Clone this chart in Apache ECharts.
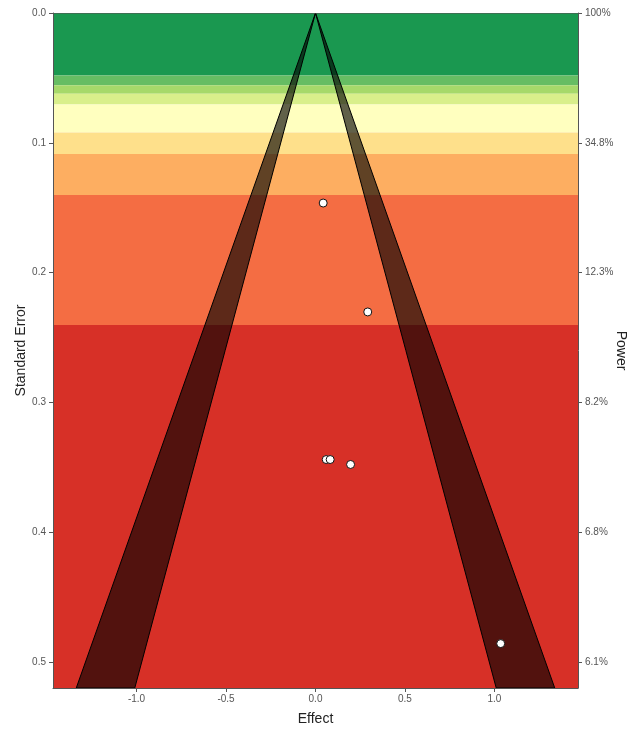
<!DOCTYPE html>
<html>
<head>
<meta charset="utf-8">
<script src="https://cdn.jsdelivr.net/npm/echarts@6/dist/echarts.min.js"></script>
<style>
html,body{margin:0;padding:0;background:#fff;}
#chart{width:638px;height:731px;}
</style>
</head>
<body>
<div id="chart"></div>
<script>
// Study data (effect, standard error)
const effects = [0.043, 0.292, 0.060, 0.082, 0.196, 1.035];
const standardErrors = [0.1464, 0.2303, 0.344, 0.344, 0.3478, 0.4858];

// Power bands (SE boundaries) and their colours
const bandEdges = [0, 0.0482, 0.0556, 0.0623, 0.0705, 0.0921, 0.1087, 0.1403, 0.2403, 0.52];
const bandColors = ['#1a9850', '#66bd63', '#a6d96a', '#d9ef8b', '#ffffbf', '#fee08b', '#fdae61', '#f46d43', '#d73027'];

// Significance contour regions (vertices: [effect, SE])
const funnelLeft = [[0, 0], [-1.337, 0.52], [-1.010, 0.52]];
const funnelRight = [[0, 0], [1.010, 0.52], [1.337, 0.52]];

// Axis ticks
const effectTicks = [-1.0, -0.5, 0.0, 0.5, 1.0];
const seTicks = [0.0, 0.1, 0.2, 0.3, 0.4, 0.5];
const powerLabels = ['100%', '34.8%', '12.3%', '8.2%', '6.8%', '6.1%'];

const xMin = -1.467, xMax = 1.467;
const yMin = 0, yMax = 0.52;

const FONT = 'Liberation Sans, Arial, sans-serif';
const chart = echarts.init(document.getElementById('chart'), null, {renderer: 'canvas'});

const bandData = [];
for (let i = 0; i < bandColors.length; i++) bandData.push([bandEdges[i], bandEdges[i + 1], i]);
const polygons = [funnelLeft, funnelRight];
const points = effects.map((e, i) => [e, standardErrors[i]]);

const axisTextStyle = {color: '#555', fontSize: 10, fontFamily: FONT};
const axisLineStyle = {show: true, onZero: false, lineStyle: {color: '#555', width: 1}};

const option = {
  animation: false,
  backgroundColor: '#fff',
  grid: {left: 53, right: 60, top: 13, bottom: 43, containLabel: false, outerBoundsMode: 'none'},
  xAxis: [{
    type: 'value', min: xMin, max: xMax, position: 'bottom', z: 10,
    splitLine: {show: false},
    axisLine: axisLineStyle,
    axisTick: {show: true, length: 4, lineStyle: {color: '#555'}, customValues: effectTicks},
    axisLabel: Object.assign({margin: 6, customValues: effectTicks, formatter: v => v.toFixed(1)}, axisTextStyle),
    name: 'Effect', nameLocation: 'middle', nameGap: 24, nameMoveOverlap: false,
    nameTextStyle: {color: '#222', fontSize: 14, fontFamily: FONT}
  }, {
    type: 'value', min: xMin, max: xMax, position: 'top', z: 10,
    splitLine: {show: false},
    axisLine: {show: true, onZero: false, lineStyle: {color: '#555', width: 0.6}},
    axisTick: {show: false}, axisLabel: {show: false}
  }],
  yAxis: [{
    type: 'value', inverse: true, min: yMin, max: yMax, position: 'left', z: 10,
    splitLine: {show: false},
    axisLine: axisLineStyle,
    axisTick: {show: true, length: 4, lineStyle: {color: '#555'}, customValues: seTicks},
    axisLabel: Object.assign({margin: 7, customValues: seTicks, formatter: v => v.toFixed(1)}, axisTextStyle),
    name: 'Standard Error', nameLocation: 'middle', nameGap: 25, nameRotate: 90, nameMoveOverlap: false,
    nameTextStyle: {color: '#222', fontSize: 14, fontFamily: FONT}
  }, {
    type: 'value', inverse: true, min: yMin, max: yMax, position: 'right', z: 10,
    splitLine: {show: false},
    axisLine: axisLineStyle,
    axisTick: {show: true, length: 4, lineStyle: {color: '#555'}, customValues: seTicks},
    axisLabel: Object.assign({margin: 7, customValues: seTicks, formatter: v => {
      let best = 0;
      seTicks.forEach((t, i) => { if (Math.abs(t - v) < Math.abs(seTicks[best] - v)) best = i; });
      return powerLabels[best];
    }}, axisTextStyle),
    name: 'Power', nameLocation: 'middle', nameGap: 36, nameRotate: -90, nameMoveOverlap: false,
    nameTextStyle: {color: '#222', fontSize: 14, fontFamily: FONT}
  }],
  series: [{
    type: 'custom',
    coordinateSystem: 'cartesian2d',
    xAxisIndex: 0, yAxisIndex: 0,
    z: 1,
    silent: true,
    data: bandData,
    encode: {y: [0, 1]},
    renderItem: function (params, api) {
      const y0 = api.value(0), y1 = api.value(1), ci = api.value(2);
      const p0 = api.coord([xMin, y0]);
      const p1 = api.coord([xMax, y1]);
      return {
        type: 'rect',
        shape: {x: p0[0], y: p0[1], width: p1[0] - p0[0], height: p1[1] - p0[1]},
        style: {fill: bandColors[ci], stroke: null}
      };
    }
  }, {
    type: 'custom',
    coordinateSystem: 'cartesian2d',
    xAxisIndex: 0, yAxisIndex: 0,
    z: 3,
    silent: true,
    data: [[0], [1]],
    encode: {x: 0},
    renderItem: function (params, api) {
      const poly = polygons[api.value(0)];
      return {
        type: 'polygon',
        shape: {points: poly.map(p => api.coord(p))},
        style: {fill: 'rgba(0,0,0,0.62)', stroke: '#000', lineWidth: 1}
      };
    }
  }, {
    type: 'scatter',
    xAxisIndex: 0, yAxisIndex: 0,
    z: 5,
    symbol: 'circle',
    symbolSize: 8,
    itemStyle: {color: '#fff', borderColor: '#111', borderWidth: 1, opacity: 1},
    data: points
  }]
};
chart.setOption(option);
</script>
</body>
</html>
